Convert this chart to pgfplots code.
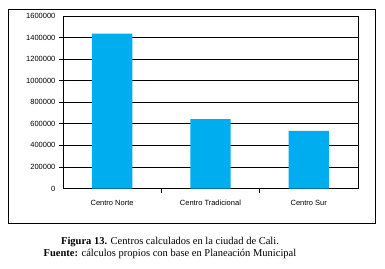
\documentclass[border=0pt]{standalone}
\usepackage{fontspec}
\setmainfont{Liberation Serif}
\newfontfamily\arialf{Liberation Sans}
\usepackage{pgfplots}
\pgfplotsset{compat=1.18}
\definecolor{barblue}{RGB}{0,174,239}
\begin{document}
\begin{tikzpicture}[x=1pt,y=1pt]
\useasboundingbox (0,0) rectangle (385,268);
\draw[line width=0.9pt] (8,45) rectangle (375,259);
\begin{axis}[
  at={(64,73.7)}, anchor=south west,
  width=295pt, height=172.5pt, scale only axis,
  xmin=-0.5, xmax=2.5, ymin=0, ymax=1600000,
  ytick={0,200000,400000,600000,800000,1000000,1200000,1400000,1600000},
  extra y ticks={200000,400000,600000,800000,1000000,1200000,1400000},
  extra y tick labels={},
  extra y tick style={major tick length=4pt, tick style={black, line width=0.8pt}, grid=none},
  xtick={0,1,2},
  xticklabels={Centro Norte, Centro Tradicional, Centro Sur},
  minor xtick={0.5,1.5},
  major x tick style={draw=none},
  xtick pos=bottom, ytick pos=left,
  tick align=outside,
  major tick length=0pt, minor tick length=4pt,
  tick style={black, line width=0.8pt},
  ymajorgrids,
  grid style={black, line width=0.8pt},
  axis line style={black, line width=0.8pt},
  scaled y ticks=false,
  /pgf/number format/assume math mode=true,
  yticklabel style={/pgf/number format/fixed, /pgf/number format/set thousands separator={}, font=\arialf\fontsize{7.5}{9}\selectfont, xshift=-4pt},
  xticklabel style={font=\arialf\fontsize{7.5}{9}\selectfont, yshift=-8pt},
]
\addplot[ybar, fill=barblue, draw=none, bar width=0.41] coordinates {(0,1437000) (1,645000) (2,535000)};
\end{axis}
\node[anchor=base] at (170,23.5) {\fontsize{10.5}{12}\selectfont\textbf{Figura 13.} Centros calculados en la ciudad de Cali.};
\node[anchor=base] at (170,11.5) {\fontsize{10.5}{12}\selectfont\textbf{Fuente:} cálculos propios con base en Planeación Municipal};
\end{tikzpicture}
\end{document}
